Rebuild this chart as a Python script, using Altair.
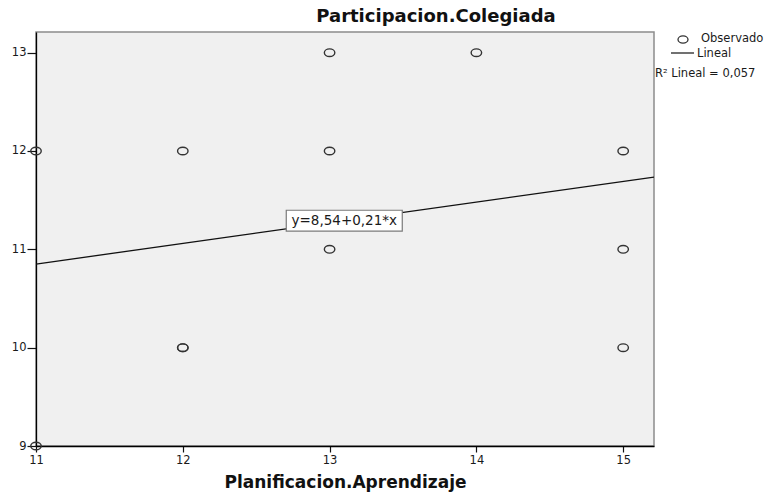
import altair as alt
import pandas as pd

# Observed pairs (Planificacion.Aprendizaje, Participacion.Colegiada)
plan_aprendizaje = [11, 11, 12, 12, 12, 13, 13, 13, 14, 15, 15, 15]
part_colegiada = [12, 9, 12, 10, 10, 13, 12, 11, 13, 12, 11, 10]

# Linear fit y = a + b*x and its R²
INTERCEPT = 8.54
SLOPE = 0.21
R2 = "0,057"

X_DOMAIN = [11, 15.21]
Y_DOMAIN = [9, 13.21]
X_TICKS = [11, 12, 13, 14, 15]
Y_TICKS = [9, 10, 11, 12, 13]
EQ_AT = 13.1  # x position of the equation tag on the fitted line

FONT = "DejaVu Sans"
INK = "#1a1a1a"
ELLIPSE = "M-1,0A1,0.72,0,1,1,1,0A1,0.72,0,1,1,-1,0Z"
TAG = "M-1,-0.18L1,-0.18L1,0.18L-1,0.18Z"

obs = pd.DataFrame({"x": plan_aprendizaje, "y": part_colegiada})
fit = pd.DataFrame({"x": X_DOMAIN})
tag = pd.DataFrame({"x": [EQ_AT]})

xs = alt.Scale(domain=X_DOMAIN, zero=False, nice=False)
ys = alt.Scale(domain=Y_DOMAIN, zero=False, nice=False)

x_axis = alt.Axis(
    values=X_TICKS, format="d", title="Planificacion.Aprendizaje", grid=False,
    tickSize=6, labelPadding=2, titlePadding=9, labelFlush=False,
    titleFont=FONT, titleFontSize=17, titleFontWeight="bold", titleColor="#111",
)
y_axis = alt.Axis(
    values=Y_TICKS, format="d", title=None, grid=False, tickSize=9,
    labelPadding=1, labelFlush=False,
)

points = alt.Chart(obs).mark_point(
    shape=ELLIPSE, size=110, filled=False, stroke="#333", strokeWidth=1.4, opacity=1
).encode(
    x=alt.X("x:Q", scale=xs, axis=x_axis),
    y=alt.Y("y:Q", scale=ys, axis=y_axis),
)

fit_line = alt.Chart(fit).transform_calculate(
    yhat=f"{INTERCEPT} + {SLOPE} * datum.x"
).mark_line(color="#111", strokeWidth=1.3, clip=True).encode(
    x=alt.X("x:Q", scale=xs),
    y=alt.Y("yhat:Q", scale=ys),
)

eq_text = "y=" + f"{INTERCEPT:.2f}".replace(".", ",") + "+" + f"{SLOPE:.2f}".replace(".", ",") + "*x"

tag_base = alt.Chart(tag).transform_calculate(
    yhat=f"{INTERCEPT} + {SLOPE} * datum.x", label=f"'{eq_text}'"
).encode(
    x=alt.X("x:Q", scale=xs),
    y=alt.Y("yhat:Q", scale=ys),
)
tag_box = tag_base.mark_point(
    shape=TAG, size=116 * 116, filled=True, fill="white", stroke="#7a7a7a",
    strokeWidth=1.2, opacity=1
)
tag_label = tag_base.mark_text(font=FONT, fontSize=13.5, color=INK, dy=0.5).encode(text="label:N")

# Legend block to the right of the plot
leg = pd.DataFrame({"k": [0]})
leg_sym = alt.Chart(leg).mark_point(
    shape=ELLIPSE, size=100, filled=False, stroke="#333", strokeWidth=1.3, opacity=1
).encode(x=alt.value(647), y=alt.value(7.5))
leg_rule = alt.Chart(leg).mark_rule(color="#111", strokeWidth=1.2).encode(
    x=alt.value(635), x2=alt.value(658), y=alt.value(21)
)
leg_txt = alt.Chart(pd.DataFrame({
    "t": ["Observado", "Lineal", f"R\u00b2 Lineal = {R2}"],
    "px": [665, 661, 619],
    "py": [7, 21.5, 42],
})).mark_text(align="left", baseline="middle", font=FONT, fontSize=11.5, color=INK).encode(
    x=alt.X("px:Q", scale=None), y=alt.Y("py:Q", scale=None), text="t:N"
)

chart = alt.layer(
    points, fit_line, tag_box, tag_label, leg_sym, leg_rule, leg_txt
).properties(
    width=618,
    height=414,
    title=alt.TitleParams(
        "Participacion.Colegiada", font=FONT, fontSize=18, fontWeight="bold",
        color="#111", anchor="middle", dx=91, offset=6,
    ),
    autosize=alt.AutoSizeParams(type="none"),
    padding={"left": 36, "top": 32, "right": 122, "bottom": 47},
    background="white",
).configure_view(
    fill="#f0f0f0", stroke="#8c8c8c", strokeWidth=1.5
).configure_axis(
    domainColor="#000", domainWidth=1.3, tickColor="#111", tickWidth=1.2,
    labelFont=FONT, labelFontSize=11.5, labelColor=INK,
)

chart.save("out.html", embed_options={"renderer": "svg", "actions": False})
